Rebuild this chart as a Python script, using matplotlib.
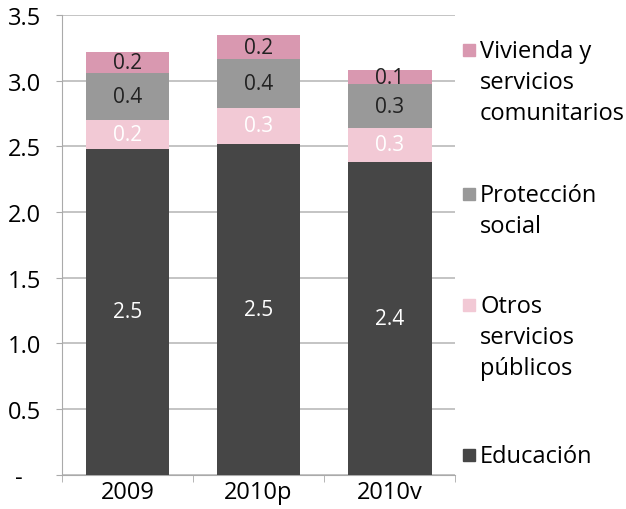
import matplotlib.pyplot as plt
from matplotlib.patches import Rectangle

plt.rcParams["font.family"] = ["Open Sans", "DejaVu Sans"]

categories = ["2009", "2010p", "2010v"]
educacion = [2.48, 2.52, 2.38]
otros = [0.22, 0.27, 0.26]
proteccion = [0.36, 0.37, 0.33]
vivienda = [0.16, 0.19, 0.11]

series_names = [["Educación"], ["Otros", "servicios", "públicos"],
                ["Protección", "social"], ["Vivienda y", "servicios", "comunitarios"]]
colors = ["#464646", "#f2c9d5", "#999999", "#d998b0"]
label_colors = ["white", "white", "#222222", "#222222"]

yticks = [0, 0.5, 1.0, 1.5, 2.0, 2.5, 3.0, 3.5]
ytick_labels = ["-   ", "0.5", "1.0", "1.5", "2.0", "2.5", "3.0", "3.5"]

fig = plt.figure(figsize=(6.26, 5.10), dpi=100)
ax = fig.add_axes([0.099, 0.067, 0.628, 0.902])

x = range(len(categories))
bottom = [0, 0, 0]
for vals, col, lcol in zip([educacion, otros, proteccion, vivienda], colors, label_colors):
    ax.bar(x, vals, 0.64, bottom=bottom, color=col, zorder=3)
    for i, v in enumerate(vals):
        ax.text(i, bottom[i] + v / 2, f"{v:.1f}", ha="center", va="center",
                color=lcol, fontsize=15, zorder=4)
    bottom = [b + v for b, v in zip(bottom, vals)]

ax.set_xlim(-0.5, 2.5)
ax.set_ylim(0, 3.5)
ax.set_yticks(yticks)
ax.set_yticklabels(ytick_labels, fontsize=17)
ax.set_xticks(list(x))
ax.set_xticklabels(categories, fontsize=17)
ax.tick_params(axis="x", length=0, pad=4)
ax.set_xticks([-0.5, 0.5, 1.5, 2.5], minor=True)
ax.tick_params(axis="x", which="minor", length=5, color="#aaaaaa", direction="out")
ax.tick_params(axis="y", length=4, color="#aaaaaa", pad=11)
ax.grid(axis="y", color="#c4c4c4", linewidth=1.4, zorder=0)
for s in ["top", "right"]:
    ax.spines[s].set_visible(False)
ax.spines["left"].set_color("#aaaaaa")
ax.spines["bottom"].set_color("#aaaaaa")

# legend drawn by hand, one text per line, marker on the first line
legend_baseline = [463, 313, 202, 58]
line_step = 31
for lines, col, ypx in zip(series_names, colors, legend_baseline):
    yf = 1 - ypx / 510
    fig.patches.append(Rectangle((463 / 626, yf + 1 / 510), 12 / 626, 12 / 510,
                                 transform=fig.transFigure, color=col))
    for k, line in enumerate(lines):
        fig.text(480 / 626, 1 - (ypx + k * line_step) / 510, line, fontsize=17,
                 va="baseline", ha="left", transform=fig.transFigure)

fig.savefig("out.png", dpi=100)
